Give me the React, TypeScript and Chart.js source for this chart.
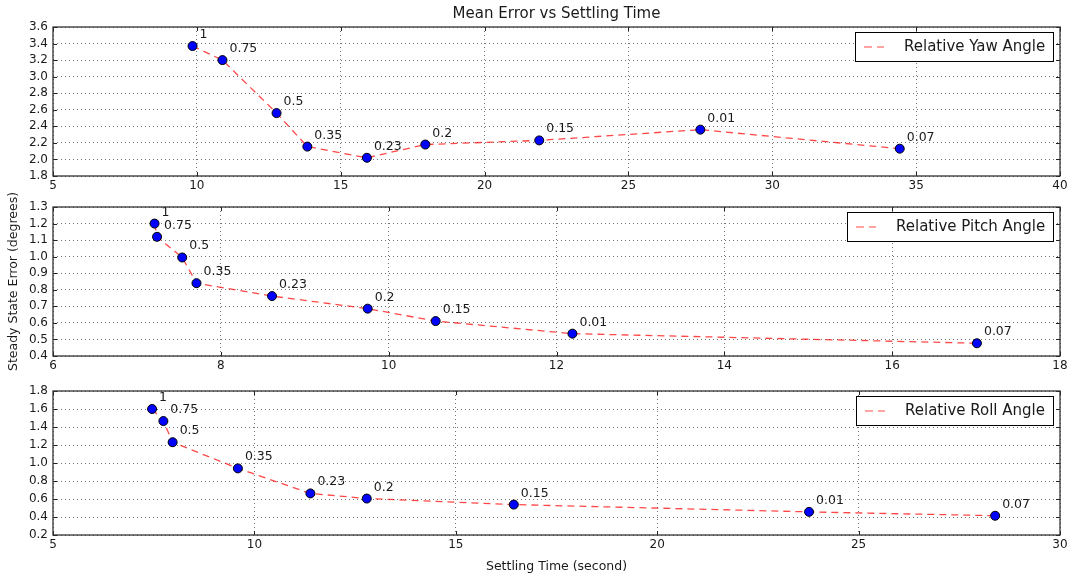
import React, { useEffect, useRef } from "react";
import { Chart, registerables } from "chart.js";

Chart.register(...registerables);

const FONT = "'DejaVu Sans', 'Liberation Sans', sans-serif";
Chart.defaults.font.family = FONT;

// ---------- data ----------
const pointLabels = ["1", "0.75", "0.5", "0.35", "0.23", "0.2", "0.15", "0.01", "0.07"];

const yawX = [9.85, 10.89, 12.77, 13.84, 15.91, 17.94, 21.9, 27.5, 34.43];
const yawY = [3.37, 3.2, 2.56, 2.155, 2.02, 2.18, 2.23, 2.36, 2.13];

const pitchX = [7.21, 7.24, 7.54, 7.71, 8.61, 9.75, 10.56, 12.19, 17.01];
const pitchY = [1.2, 1.12, 0.995, 0.84, 0.762, 0.686, 0.611, 0.535, 0.477];

const rollX = [7.46, 7.74, 7.97, 9.59, 11.39, 12.79, 16.44, 23.77, 28.39];
const rollY = [1.6, 1.466, 1.231, 0.94, 0.662, 0.605, 0.538, 0.457, 0.414];

const yawXTicks = [5, 10, 15, 20, 25, 30, 35, 40];
const yawYTicks = [1.8, 2.0, 2.2, 2.4, 2.6, 2.8, 3.0, 3.2, 3.4, 3.6];
const pitchXTicks = [6, 8, 10, 12, 14, 16, 18];
const pitchYTicks = [0.4, 0.5, 0.6, 0.7, 0.8, 0.9, 1.0, 1.1, 1.2, 1.3];
const rollXTicks = [5, 10, 15, 20, 25, 30];
const rollYTicks = [0.2, 0.4, 0.6, 0.8, 1.0, 1.2, 1.4, 1.6, 1.8];

const chartTitle = "Mean Error vs Settling Time";
const yAxisTitle = "Steady State Error (degrees)";
const xAxisTitle = "Settling Time (second)";

// ---------- styles ----------
const LINE_COLOR = "rgba(255, 0, 0, 0.72)";
const LINE_DASH = [7, 5];
const TEXT = "#1a1a1a";
const W = 1073;

type Panel = {
  xs: number[];
  ys: number[];
  legend: string;
  xTicks: number[];
  yTicks: number[];
  top: number;
  height: number;
  padTop: number;
  xAxisHeight: number;
  showTitle: boolean;
  showYTitle: boolean;
  showXTitle: boolean;
};

const panels: Panel[] = [
  { xs: yawX, ys: yawY, legend: "Relative Yaw Angle", xTicks: yawXTicks, yTicks: yawYTicks, top: 0, height: 200, padTop: 0, xAxisHeight: 24, showTitle: true, showYTitle: false, showXTitle: false },
  { xs: pitchX, ys: pitchY, legend: "Relative Pitch Angle", xTicks: pitchXTicks, yTicks: pitchYTicks, top: 170, height: 210, padTop: 37, xAxisHeight: 24, showTitle: false, showYTitle: true, showXTitle: false },
  { xs: rollX, ys: rollY, legend: "Relative Roll Angle", xTicks: rollXTicks, yTicks: rollYTicks, top: 380, height: 199, padTop: 7, xAxisHeight: 44, showTitle: false, showYTitle: false, showXTitle: true },
];

function makePlugins(p: Panel) {
  const frame = {
    id: "frameTicks",
    afterDraw(chart: any) {
      const { ctx, chartArea: a, scales } = chart;
      ctx.save();
      ctx.strokeStyle = "#222";
      ctx.lineWidth = 1;
      ctx.beginPath();
      scales.x.ticks.forEach((t: any) => {
        const px = Math.round(scales.x.getPixelForValue(t.value)) + 0.5;
        ctx.moveTo(px, a.top);
        ctx.lineTo(px, a.top + 4);
        ctx.moveTo(px, a.bottom);
        ctx.lineTo(px, a.bottom - 4);
      });
      scales.y.ticks.forEach((t: any) => {
        const py = Math.round(scales.y.getPixelForValue(t.value)) + 0.5;
        ctx.moveTo(a.left, py);
        ctx.lineTo(a.left + 4, py);
        ctx.moveTo(a.right, py);
        ctx.lineTo(a.right - 4, py);
      });
      ctx.stroke();
      ctx.strokeStyle = "#333";
      ctx.lineWidth = 1.3;
      ctx.strokeRect(a.left, a.top, a.right - a.left, a.bottom - a.top);
      ctx.restore();
    },
  };
  const legend = {
    id: "boxLegend",
    afterDraw(chart: any) {
      const { ctx, chartArea: a } = chart;
      ctx.save();
      ctx.font = `15px ${FONT}`;
      const tw = ctx.measureText(p.legend).width;
      const w = Math.round(49 + tw + 8);
      const h = 29;
      const x = Math.round(a.right - 7 - w);
      const y = Math.round(a.top + 5);
      ctx.fillStyle = "#fff";
      ctx.fillRect(x, y, w, h);
      ctx.strokeStyle = "#000";
      ctx.lineWidth = 1;
      ctx.strokeRect(x + 0.5, y + 0.5, w, h);
      ctx.strokeStyle = LINE_COLOR;
      ctx.lineWidth = 1.2;
      ctx.setLineDash([8, 5]);
      ctx.beginPath();
      ctx.moveTo(x + 9, y + h / 2 + 0.5);
      ctx.lineTo(x + 29, y + h / 2 + 0.5);
      ctx.stroke();
      ctx.setLineDash([]);
      ctx.fillStyle = TEXT;
      ctx.textBaseline = "middle";
      ctx.textAlign = "left";
      ctx.fillText(p.legend, x + 49, y + h / 2 + 1);
      ctx.restore();
    },
  };
  const annot = {
    id: "pointAnnot",
    afterDatasetsDraw(chart: any) {
      const { ctx } = chart;
      const meta = chart.getDatasetMeta(0);
      ctx.save();
      ctx.font = `12.5px ${FONT}`;
      ctx.fillStyle = TEXT;
      ctx.textAlign = "left";
      ctx.textBaseline = "alphabetic";
      meta.data.forEach((el: any, i: number) => {
        ctx.fillText(pointLabels[i], el.x + 7, el.y - 8);
      });
      ctx.restore();
    },
  };
  return [frame, annot, legend];
}

function makeConfig(p: Panel): any {
  const pts = p.xs.map((x, i) => ({ x, y: p.ys[i] }));
  return {
    type: "scatter",
    data: {
      datasets: [
        {
          label: "points",
          data: pts,
          showLine: false,
          pointRadius: 4.5,
          pointHoverRadius: 4.5,
          pointBackgroundColor: "#0000ff",
          pointBorderColor: "#000",
          pointBorderWidth: 1,
        },
        {
          label: p.legend,
          data: pts,
          showLine: true,
          borderColor: LINE_COLOR,
          borderWidth: 1.3,
          borderDash: LINE_DASH,
          pointRadius: 0,
          tension: 0,
          fill: false,
        },
      ],
    },
    options: {
      responsive: false,
      animation: false,
      devicePixelRatio: 1,
      layout: { padding: { top: p.padTop, left: 0, right: 13, bottom: 0 } },
      plugins: {
        legend: { display: false },
        tooltip: { enabled: false },
        title: {
          display: p.showTitle,
          text: chartTitle,
          fullSize: false,
          color: TEXT,
          font: { size: 15, weight: "normal", family: FONT },
          padding: { top: 5, bottom: 4 },
        },
      },
      scales: {
        x: {
          type: "linear",
          min: p.xTicks[0],
          max: p.xTicks[p.xTicks.length - 1],
          afterBuildTicks: (s: any) => {
            s.ticks = p.xTicks.map((v) => ({ value: v }));
          },
          afterFit: (s: any) => {
            s.height = p.xAxisHeight;
          },
          ticks: {
            autoSkip: false,
            maxRotation: 0,
            padding: 3,
            color: TEXT,
            font: { size: 12, family: FONT },
            callback: (v: any) => String(v),
          },
          grid: { color: "rgba(0,0,0,0.55)", lineWidth: 1, drawTicks: false },
          border: { display: false, dash: [1, 3] },
          title: {
            display: p.showXTitle,
            text: xAxisTitle,
            color: TEXT,
            font: { size: 12.5, family: FONT },
            padding: { top: 0, bottom: 5 },
          },
        },
        y: {
          type: "linear",
          min: p.yTicks[0],
          max: p.yTicks[p.yTicks.length - 1],
          afterBuildTicks: (s: any) => {
            s.ticks = p.yTicks.map((v) => ({ value: v }));
          },
          afterFit: (s: any) => {
            s.width = 53;
          },
          ticks: {
            autoSkip: false,
            padding: 5,
            color: TEXT,
            font: { size: 12, family: FONT, lineHeight: 1 },
            callback: (v: any) => Number(v).toFixed(1),
          },
          grid: { color: "rgba(0,0,0,0.55)", lineWidth: 1, drawTicks: false },
          border: { display: false, dash: [1, 3] },
          title: {
            display: p.showYTitle,
            text: yAxisTitle,
            color: TEXT,
            font: { size: 12.5, family: FONT },
            padding: { top: 6, bottom: 0 },
          },
        },
      },
    },
    plugins: makePlugins(p),
  };
}

function PanelChart({ p }: { p: Panel }) {
  const ref = useRef<HTMLCanvasElement | null>(null);
  useEffect(() => {
    if (!ref.current) return;
    const chart = new Chart(ref.current, makeConfig(p));
    return () => chart.destroy();
  }, [p]);
  return (
    <canvas
      ref={ref}
      width={W}
      height={p.height}
      style={{ position: "absolute", left: 0, top: p.top, width: W, height: p.height, display: "block" }}
    />
  );
}

export default function App() {
  useEffect(() => {
    document.body.style.margin = "0";
    document.body.style.background = "#fff";
  }, []);
  return (
    <div style={{ position: "relative", width: W, height: 579, background: "#fff", overflow: "hidden" }}>
      {panels.map((p, i) => (
        <PanelChart key={i} p={p} />
      ))}
    </div>
  );
}
